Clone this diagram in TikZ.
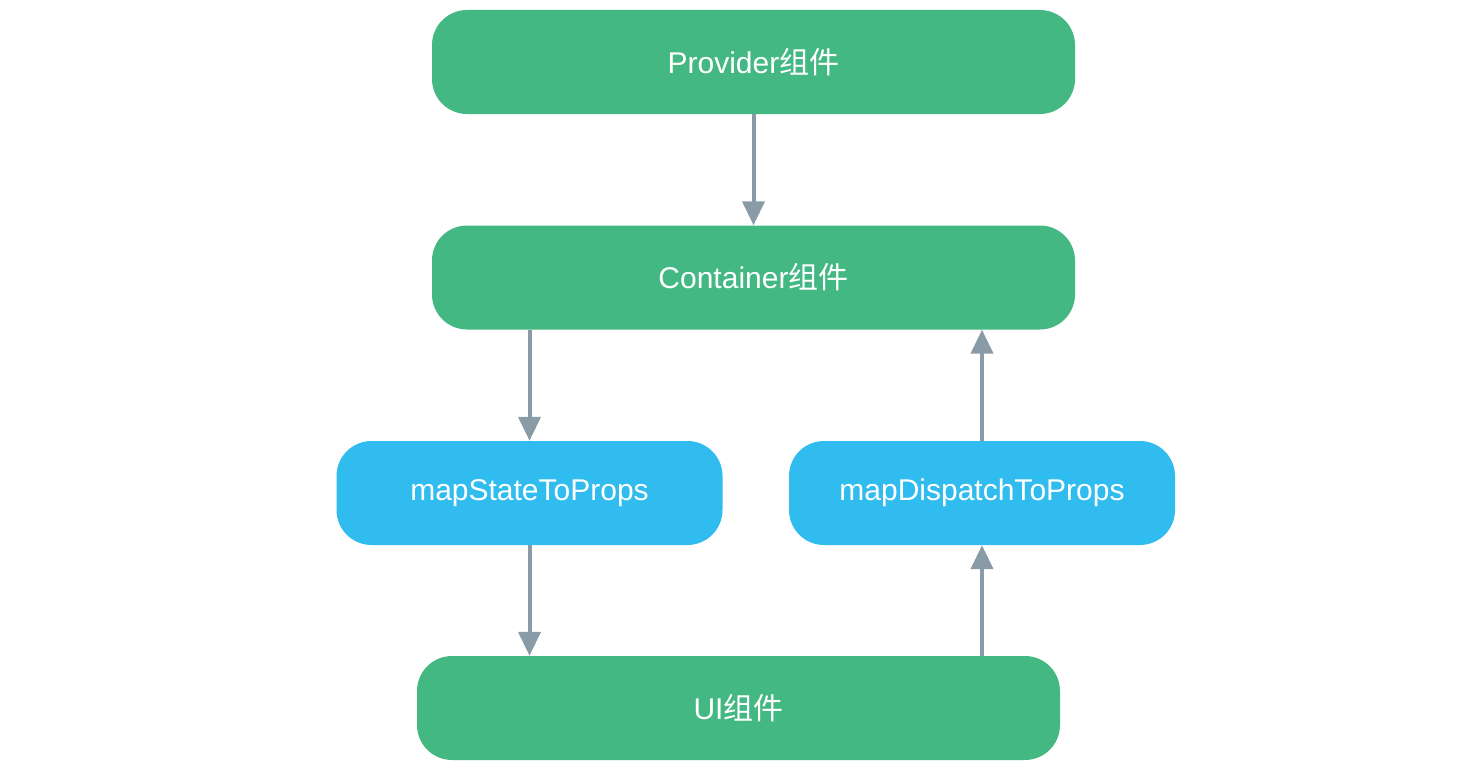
\documentclass[tikz,border=0pt]{standalone}
\usepackage{fontspec}
\setmainfont{Liberation Sans}
\newfontfamily\cjk{Noto Sans CJK SC}
\usetikzlibrary{arrows.meta}
\definecolor{boxgreen}{HTML}{43B883}
\definecolor{boxblue}{HTML}{30BCEE}
\definecolor{arrowgray}{HTML}{8A9BA8}
\begin{document}
\begin{tikzpicture}[x=1pt,y=-1pt,
  lbl/.style={text=white, font=\fontsize{30}{34}\selectfont},
  greenbox/.style={lbl, fill=boxgreen, rounded corners=35pt, minimum width=643pt, minimum height=104pt, inner sep=0pt},
  bluebox/.style={lbl, fill=boxblue, rounded corners=35pt, minimum width=386pt, minimum height=104pt, inner sep=0pt},
  conn/.style={draw=arrowgray, line width=4pt, -{Triangle[width=22pt,length=24pt]}, arrowgray}]
\useasboundingbox (0,0) rectangle (1478,768);
\node[greenbox] (prov) at (753.5,62) {Provider{\cjk 组件}};
\node[greenbox] (cont) at (753.5,277.5) {Container{\cjk 组件}};
\node[bluebox] (mstp) at (529.5,493) {mapStateToProps};
\node[bluebox] (mdtp) at (982,493) {mapDispatchToProps};
\node[greenbox] (ui) at (738.5,708) {UI{\cjk 组件}};
\draw[conn] (prov.south) -- (cont.north);
\draw[conn] (mstp.north |- cont.south) -- (mstp.north);
\draw[conn] (mstp.south) -- (mstp.south |- ui.north);
\draw[conn] (mdtp.south |- ui.north) -- (mdtp.south);
\draw[conn] (mdtp.north) -- (mdtp.north |- cont.south);
\end{tikzpicture}
\end{document}
